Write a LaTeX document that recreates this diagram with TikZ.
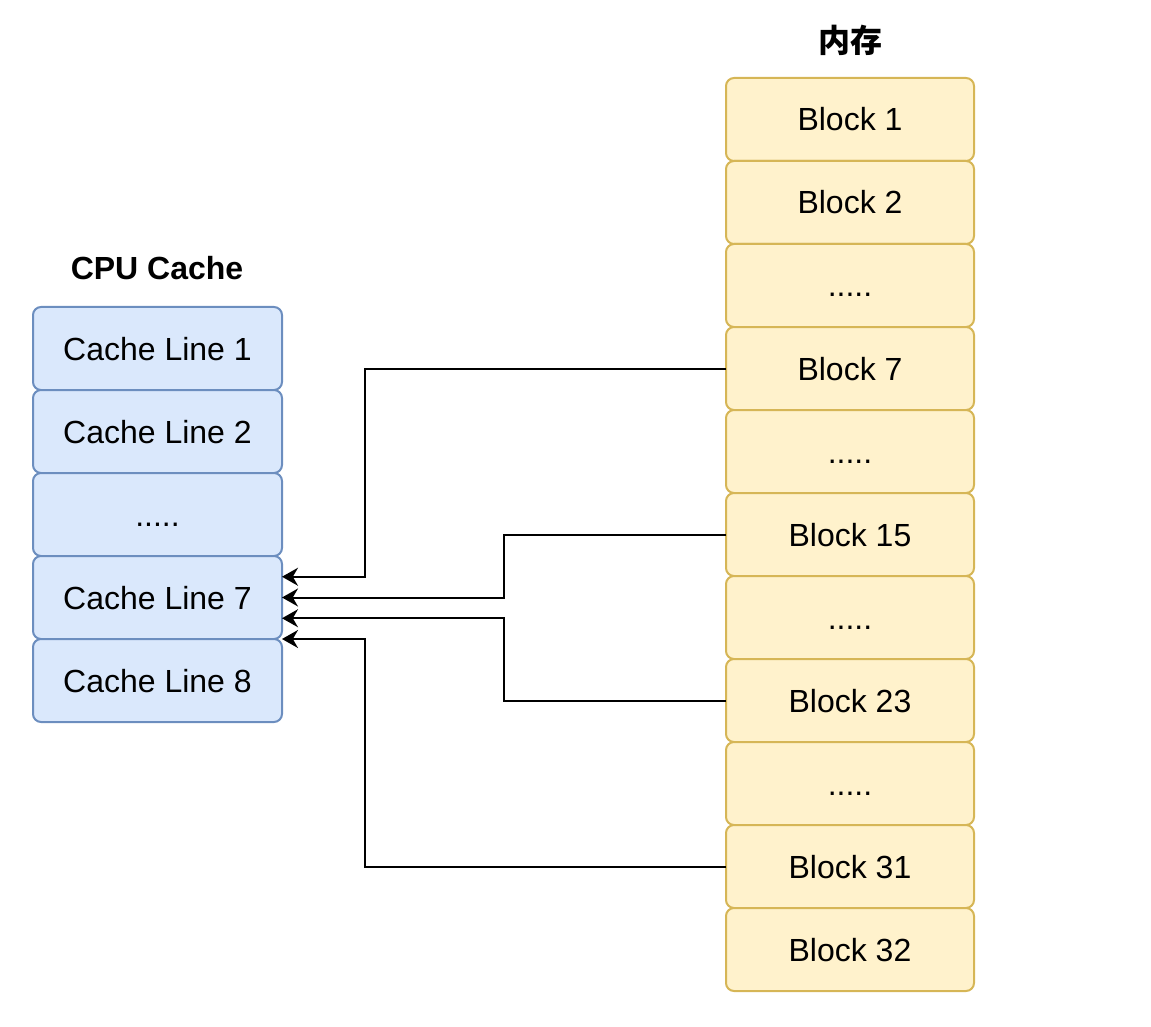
\documentclass[tikz,border=0pt]{standalone}
\usepackage{fontspec}
\setmainfont{Liberation Sans}
\newfontfamily\cjk{Noto Sans CJK SC}
\usetikzlibrary{arrows.meta,positioning,calc}
\definecolor{cfill}{HTML}{DAE8FC}
\definecolor{cline}{HTML}{6C8EBF}
\definecolor{mfill}{HTML}{FFF2CC}
\definecolor{mline}{HTML}{D6B656}
\tikzset{
  cbox/.style ={draw=cline,fill=cfill,line width=1pt,rounded corners=4pt,
                minimum width=124.5pt,minimum height=41.5pt,outer sep=0pt,
                font=\fontsize{16}{19}\selectfont,inner sep=0pt,
                text height=11.5pt,text depth=0pt},
  mbox/.style ={draw=mline,fill=mfill,line width=1pt,rounded corners=4pt,
                minimum width=124pt,minimum height=41.5pt,outer sep=0pt,
                font=\fontsize{16}{19}\selectfont,inner sep=0pt,
                text height=11.5pt,text depth=0pt},
  ttl/.style  ={font=\fontsize{16}{19}\selectfont\bfseries,inner sep=0pt},
  arr/.style  ={-{Stealth[length=8pt,width=9pt]},line width=1pt,black},
}
\begin{document}
\begin{tikzpicture}[x=0.5pt,y=-0.5pt]
  \useasboundingbox (0,0) rectangle (1151,1027);
  % CPU cache
  \node[ttl] (ctl) at (157,268) {CPU Cache};
  \node[cbox] (c1) at (157.5,348.5) {Cache Line 1};
  \node[cbox,below=0pt of c1] (c2) {Cache Line 2};
  \node[cbox,below=0pt of c2] (c3) {.....};
  \node[cbox,below=0pt of c3] (c7) {Cache Line 7};
  \node[cbox,below=0pt of c7] (c8) {Cache Line 8};
  % memory
  \node[ttl,font=\cjk\fontsize{16}{19}\selectfont\bfseries] (mtl) at (850,40) {内存};
  \node[mbox] (b1) at (850,119.5) {Block 1};
  \node[mbox,below=0pt of b1] (b2) {Block 2};
  \node[mbox,below=0pt of b2] (d1) {.....};
  \node[mbox,below=0pt of d1] (b7) {Block 7};
  \node[mbox,below=0pt of b7] (d2) {.....};
  \node[mbox,below=0pt of d2] (b15) {Block 15};
  \node[mbox,below=0pt of b15] (d3) {.....};
  \node[mbox,below=0pt of d3] (b23) {Block 23};
  \node[mbox,below=0pt of b23] (d4) {.....};
  \node[mbox,below=0pt of d4] (b31) {Block 31};
  \node[mbox,below=0pt of b31] (b32) {Block 32};
  % mapping
  \coordinate (t1) at ($(c7.north east)!.25!(c7.south east)$);
  \coordinate (t2) at (c7.east);
  \coordinate (t3) at ($(c7.north east)!.75!(c7.south east)$);
  \coordinate (t4) at (c7.south east);
  \draw[arr] (b7.west) -- ++(-361,0) |- (t1);
  \draw[arr] (b15.west) -- ++(-222,0) |- (t2);
  \draw[arr] (b23.west) -- ++(-222,0) |- (t3);
  \draw[arr] (b31.west) -- ++(-361,0) |- (t4);
\end{tikzpicture}
\end{document}
